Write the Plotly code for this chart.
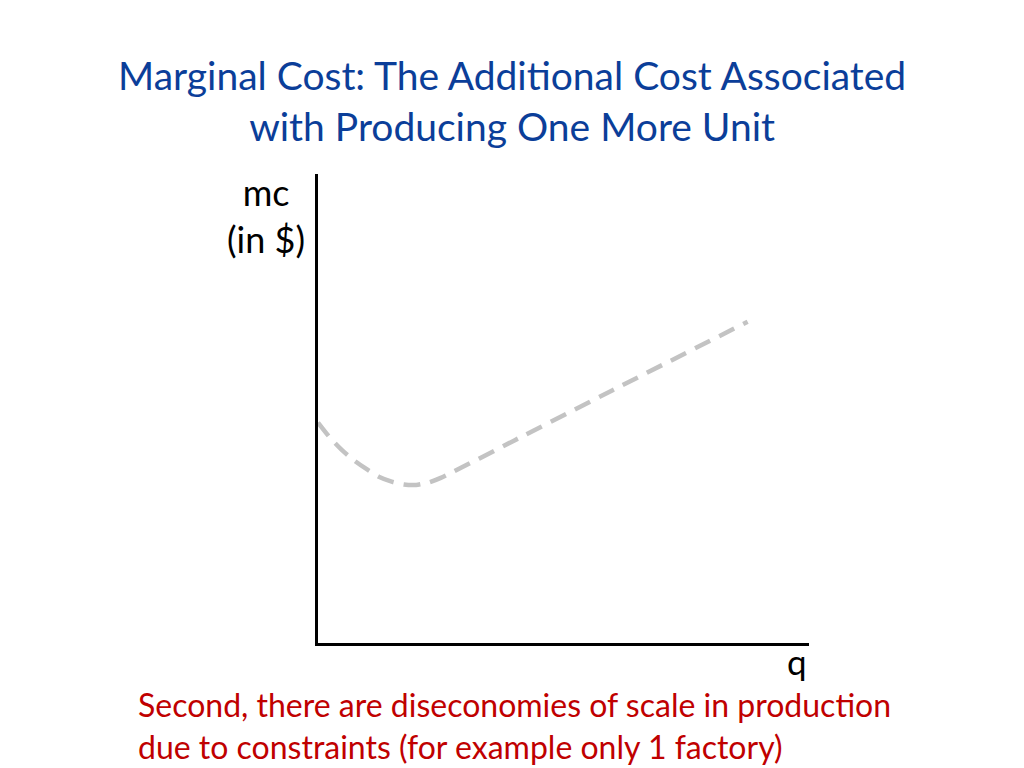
import plotly.graph_objects as go

# Quantity (x) and marginal cost (y), in arbitrary units
q_values = [0, 0.25, 0.5, 0.75, 1.0, 1.25, 1.5, 1.75, 2.0, 2.25, 2.5, 4.0, 6.0, 8.75]
mc_values = [4.7, 4.37, 4.1, 3.88, 3.7, 3.54, 3.44, 3.38, 3.37, 3.42, 3.52, 4.32, 5.39, 6.85]

title_lines = ["Marginal Cost: The Additional Cost Associated", "with Producing One More Unit"]
y_label_lines = ["mc", "(in $)"]
x_label = "q"
note_lines = ["Second, there are diseconomies of scale in production",
              "due to constraints (for example only 1 factory)"]

FONT = "Lato, Open Sans, sans-serif"

L, T, W, H = 310, 166, 491, 469  # plot area in page pixels (page has a small body offset)

def px(xp):
    return (xp - 316) / W

def py(yp):
    return (643 - yp) / H

fig = go.Figure()
fig.add_trace(go.Scatter(
    x=q_values, y=mc_values, mode="lines",
    line=dict(color="#c3c3c3", width=4.5, dash="17px,10px", shape="spline", smoothing=0.6),
    hoverinfo="skip", showlegend=False,
))

fig.update_layout(
    width=1024, height=768,
    margin=dict(l=L, r=1024 - L - W, t=T, b=768 - T - H),
    paper_bgcolor="white", plot_bgcolor="white",
    xaxis=dict(range=[0, 10], showline=True, linecolor="black", linewidth=3,
               showgrid=False, zeroline=False, showticklabels=False, ticks="", fixedrange=True),
    yaxis=dict(range=[0, 10], showline=True, linecolor="black", linewidth=3,
               showgrid=False, zeroline=False, showticklabels=False, ticks="", fixedrange=True),
    annotations=[
        dict(text="<br>".join(title_lines), xref="paper", yref="paper",
             x=px(510), y=py(101), xanchor="center", yanchor="middle",
             showarrow=False, align="center",
             font=dict(family=FONT, size=39, color="#0b3e99")),
        dict(text="<br>".join(y_label_lines), xref="paper", yref="paper",
             x=px(264), y=py(215), xanchor="center", yanchor="middle",
             showarrow=False, align="center",
             font=dict(family=FONT, size=36, color="black")),
        dict(text=x_label, xref="paper", yref="paper",
             x=px(795), y=py(661), xanchor="center", yanchor="middle",
             showarrow=False, font=dict(family=FONT, size=35, color="black")),
        dict(text="<br>".join(note_lines), xref="paper", yref="paper",
             x=px(134), y=py(725), xanchor="left", yanchor="middle",
             showarrow=False, align="left",
             font=dict(family=FONT, size=32, color="#c00000")),
    ],
)

fig.write_html("out.html")
